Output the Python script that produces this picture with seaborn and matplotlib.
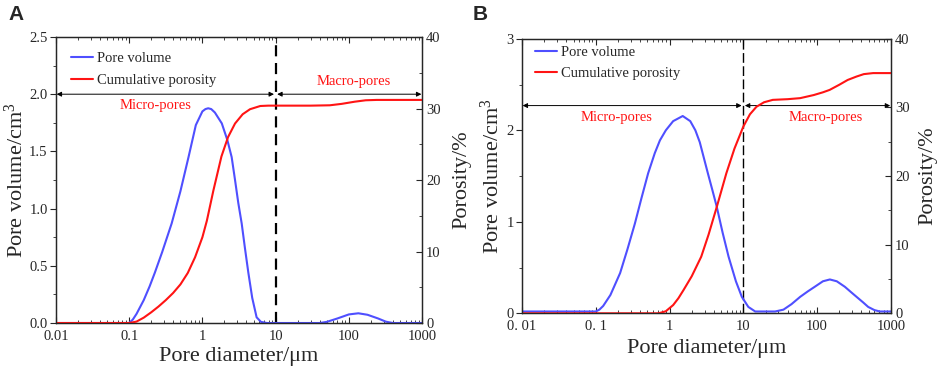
import numpy as np
import pandas as pd
import matplotlib
matplotlib.use("Agg")
import matplotlib.pyplot as plt
import seaborn as sns
from matplotlib.ticker import FixedLocator, NullFormatter, LogLocator, MultipleLocator

# ---------------- data ----------------
# Panel A : pore volume (left axis) and cumulative porosity (right axis, %)
a_pv_d = [0.01, 0.05, 0.1, 0.112, 0.126, 0.158, 0.19, 0.224, 0.282, 0.38, 0.5, 0.646,
          0.813, 1.0, 1.1, 1.2, 1.32, 1.48, 1.84, 2.19, 2.51, 2.79, 3.09, 3.44, 3.8, 4.24,
          4.79, 5.5, 6.3, 7.6, 10, 20, 40, 50, 70, 100, 135, 180, 250, 320, 400, 1000]
a_pv_v = [0, 0, 0, 0.03, 0.08, 0.2, 0.32, 0.44, 0.62, 0.87, 1.15, 1.45,
          1.73, 1.85, 1.87, 1.877, 1.87, 1.84, 1.745, 1.6, 1.45, 1.25, 1.05, 0.87, 0.66,
          0.44, 0.22, 0.05, 0.01, 0, 0, 0, 0, 0.01, 0.04, 0.075, 0.085, 0.072, 0.04, 0.012,
          0, 0]
a_cp_d = [0.01, 0.1, 0.126, 0.158, 0.2, 0.251, 0.316, 0.398, 0.501, 0.631, 0.794,
          1.0, 1.15, 1.41, 1.82, 2.24, 2.79, 3.55, 4.47, 6.17, 7.94, 10, 30, 55, 80,
          120, 170, 240, 1000]
a_cp_v = [0, 0, 0.2, 0.75, 1.5, 2.3, 3.2, 4.2, 5.4, 7.0, 9.2,
          12.0, 14.3, 18.5, 23.3, 26.0, 27.9, 29.2, 29.9, 30.35, 30.4, 30.4, 30.4, 30.45,
          30.65, 30.95, 31.15, 31.2, 31.2]

# Panel B
b_pv_d = [0.01, 0.05, 0.1, 0.112, 0.126, 0.158, 0.214, 0.269, 0.339, 0.417, 0.513,
          0.631, 0.741, 0.891, 1.12, 1.51, 1.91, 2.24, 2.57, 3.31, 3.8, 4.35, 5.25,
          6.31, 7.94, 9.55, 11.7, 14.5, 27, 35, 45, 59, 75, 93, 120, 149, 185, 238,
          290, 343, 420, 493, 600, 710, 1000]
b_pv_v = [0.02, 0.02, 0.02, 0.04, 0.08, 0.2, 0.44, 0.7, 0.98, 1.26, 1.53,
          1.75, 1.89, 2.0, 2.1, 2.156, 2.1, 2.0, 1.87, 1.53, 1.35, 1.17, 0.88,
          0.62, 0.35, 0.18, 0.07, 0.02, 0.02, 0.04, 0.1, 0.18, 0.24, 0.29, 0.35, 0.37,
          0.35, 0.29, 0.23, 0.18, 0.12, 0.07, 0.035, 0.02, 0.02]
b_cp_d = [0.01, 0.71, 0.89, 1.12, 1.32, 1.55, 2.0, 2.69, 3.39, 4.37, 5.89, 7.59, 10,
          12.3, 15.1, 19.1, 25.1, 40, 59, 90, 120, 148, 200, 260, 343, 430, 575, 1000]
b_cp_v = [0, 0, 0.3, 1.2, 2.2, 3.4, 5.4, 8.25, 11.5, 15.5, 20.4, 24.0, 27.2,
          29.0, 30.1, 30.75, 31.1, 31.2, 31.35, 31.8, 32.2, 32.55, 33.3, 34.0, 34.5,
          34.85, 35.0, 35.0]

x_major = [0.01, 0.1, 1, 10, 100, 1000]
a_xlabels = ["0.01", "0.1", "1", "10", "100", "1000"]
b_xlabels = ["0. 01", "0. 1", "1", "10", "100", "1000"]
a_yticks = [0.0, 0.5, 1.0, 1.5, 2.0, 2.5]
a_ylabels = ["0.0", "0.5", "1.0", "1.5", "2.0", "2.5"]
b_yticks = [0, 1, 2, 3]
b_ylabels = ["0", "1", "2", "3"]
r_yticks = [0, 10, 20, 30, 40]
r_ylabels = ["0", "10", "20", "30", "40"]

legend_labels = ["Pore volume", "Cumulative porosity"]

BLUE = "#4f4fff"
RED = "#ff1414"

# ---------------- style ----------------
sns.set_style("ticks")
plt.rcParams["font.family"] = ["Liberation Serif", "DejaVu Serif"]
plt.rcParams["mathtext.fontset"] = "custom"
plt.rcParams["mathtext.rm"] = "Liberation Serif"
plt.rcParams["mathtext.it"] = "Liberation Serif:italic"
plt.rcParams["axes.linewidth"] = 0.9

fig = plt.figure(figsize=(9.41, 3.70), dpi=100)
axA = fig.add_axes([0.0595, 0.127, 0.389, 0.773])
axB = fig.add_axes([0.5547, 0.1532, 0.392, 0.742])


def draw(ax, pv_d, pv_v, cp_d, cp_v, ylim, yticks, ylabels, yminor, xlabels,
         arrow_y, dash_lw, dash_pat, micro_xy, macro_xy, leg_anchor, leg_space,
         pads):
    ax.set_xscale("log")
    dfp = pd.DataFrame({"d": pv_d, "v": pv_v})
    sns.lineplot(data=dfp, x="d", y="v", ax=ax, color=BLUE, lw=1.5, legend=False)
    ax.set_xlim(0.01, 1000)
    ax.set_ylim(*ylim)
    ax2 = ax.twinx()
    dfc = pd.DataFrame({"d": cp_d, "v": cp_v})
    sns.lineplot(data=dfc, x="d", y="v", ax=ax2, color=RED, lw=1.5, legend=False)
    ax2.set_ylim(0, 40)
    ax.set_xlim(0.01, 1000)

    # x ticks
    ax.xaxis.set_major_locator(FixedLocator(x_major))
    ax.set_xticklabels(xlabels)
    ax.xaxis.set_minor_locator(LogLocator(base=10, subs=np.arange(2, 10)))
    ax.xaxis.set_minor_formatter(NullFormatter())
    ax.tick_params(axis="x", which="both", direction="in", top=True, bottom=True,
                   labelsize=10.5, pad=5)
    ax.tick_params(axis="x", which="major", length=4, width=0.8)
    ax.tick_params(axis="x", which="minor", length=2, width=0.6)

    # left y
    ax.set_yticks(yticks)
    ax.set_yticklabels(ylabels)
    ax.yaxis.set_minor_locator(MultipleLocator(yminor))
    ax.tick_params(axis="y", which="both", direction="out", labelsize=10.5, pad=2)
    ax.tick_params(axis="y", which="major", length=4, width=0.8)
    ax.tick_params(axis="y", which="minor", length=2.5, width=0.6)

    # right y
    ax2.set_yticks(r_yticks)
    ax2.set_yticklabels(r_ylabels)
    ax2.yaxis.set_minor_locator(MultipleLocator(5))
    ax2.tick_params(axis="y", which="both", direction="in", labelsize=10.5, pad=3)
    ax2.tick_params(axis="y", which="major", length=4, width=0.8)
    ax2.tick_params(axis="y", which="minor", length=2.5, width=0.6)

    ax.set_xlabel("Pore diameter/\u03bcm", fontsize=16, labelpad=pads[0])
    ax.set_ylabel("Pore volume/cm$^3$", fontsize=16, labelpad=pads[1])
    ax2.set_ylabel("Porosity/%", fontsize=16, labelpad=pads[2])

    # divider line at 10 um
    ax.axvline(10, color="black", lw=dash_lw, ls=(0, dash_pat), zorder=1)

    # arrows
    ap = dict(arrowstyle="<|-|>", color="black", lw=0.7, mutation_scale=7,
              shrinkA=0, shrinkB=0)
    ax.annotate("", xy=(9.5, arrow_y), xytext=(0.0102, arrow_y), arrowprops=ap)
    ax.annotate("", xy=(980, arrow_y), xytext=(10.5, arrow_y), arrowprops=ap)
    ax.text(micro_xy[0], micro_xy[1], "Micro-pores", color=RED, fontsize=10.5,
            ha="center", va="center")
    ax.text(macro_xy[0], macro_xy[1], "Macro-pores", color=RED, fontsize=10.5,
            ha="center", va="center")

    h1 = ax.get_lines()[0]
    h2 = ax2.get_lines()[0]
    ax2.legend([h1, h2], legend_labels, loc="upper left", bbox_to_anchor=leg_anchor,
               frameon=False, fontsize=10.5, handlelength=1.5, handletextpad=0.3,
               labelspacing=leg_space, borderaxespad=0)
    return ax2


draw(axA, a_pv_d, a_pv_v, a_cp_d, a_cp_v, (0, 2.5), a_yticks, a_ylabels, 0.25, a_xlabels,
     2.0, 1.6, (5, 3), (0.232, 1.897), (117, 2.115), (0.025, 0.97), 0.62, (3, 1, 8))
draw(axB, b_pv_d, b_pv_v, b_cp_d, b_cp_v, (0, 3), b_yticks, b_ylabels, 0.5, b_xlabels,
     2.27, 1.0, (7, 2.5), (0.194, 2.145), (132, 2.145), (0.02, 0.995), 0.55, (4, 1.5, 6))

fig.text(8 / 941, 1 - 14 / 370, "A", fontsize=15, fontweight="bold",
         family="Liberation Sans", ha="left", va="center")
fig.text(473 / 941, 1 - 14 / 370, "B", fontsize=15, fontweight="bold",
         family="Liberation Sans", ha="left", va="center")

fig.savefig("out.png", dpi=100)
